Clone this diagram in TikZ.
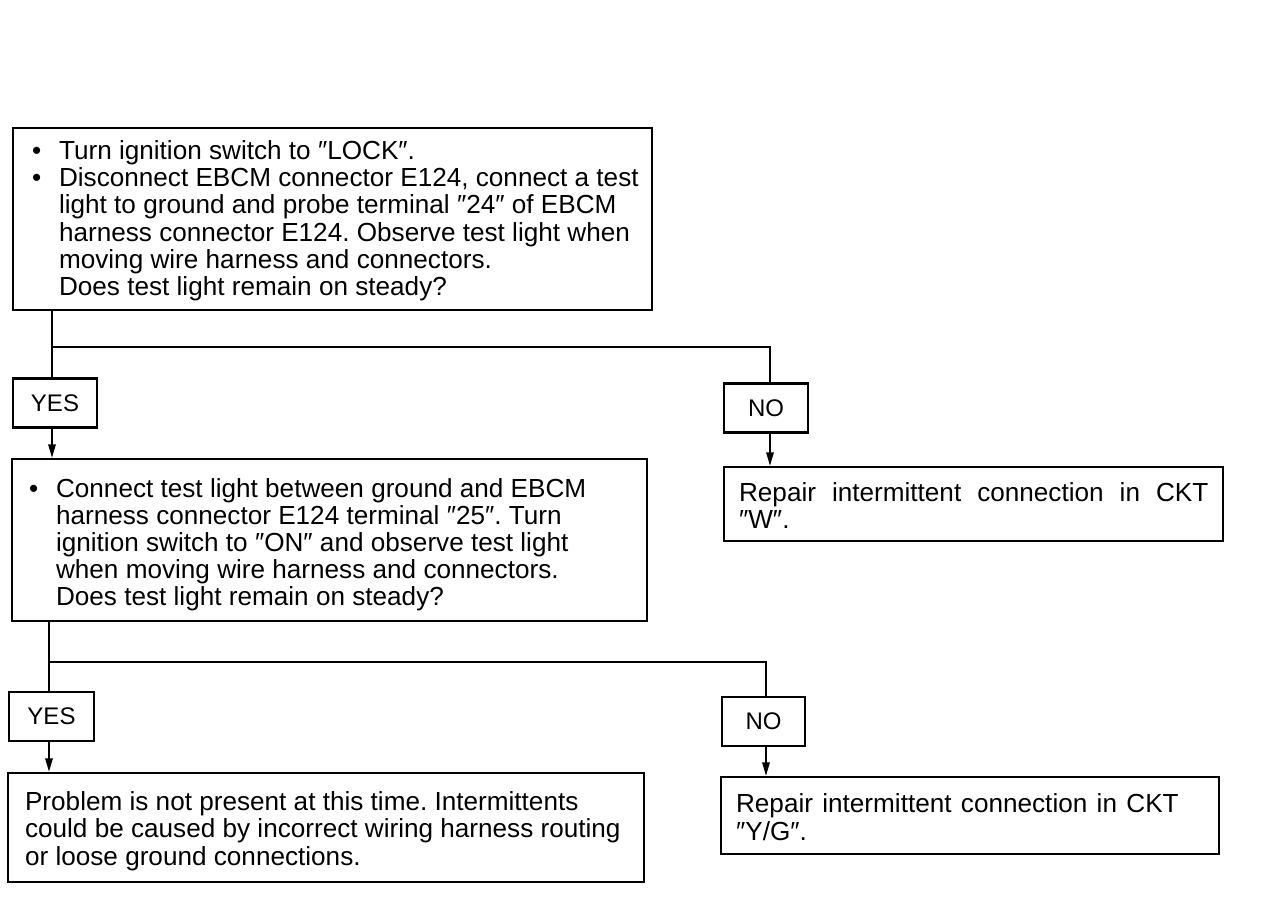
\documentclass[tikz,border=0pt]{standalone}
\usepackage{fontspec}
\setmainfont{Liberation Sans}
\usetikzlibrary{arrows.meta,fit,calc}
\frenchspacing
\begin{document}
\begin{tikzpicture}[x=0.75pt,y=-0.75pt,
  frame/.style={draw,line width=1.8pt,inner sep=0pt},
  lbl/.style={frame,font=\fontsize{18}{20}\selectfont,minimum height=36.5pt},
  body/.style={inner sep=0pt,anchor=west,font=\fontsize{19.6}{20.4}\selectfont},
  wire/.style={line width=1.3pt},
  arr/.style={wire,-{Triangle[length=10pt,width=5.5pt]}}]
\fill[white] (0,0) rectangle (1280,900);
\useasboundingbox (0,0) rectangle (1280,900);

% boxes
\node[frame,fit={(13,128)(652,310)}] (q1) {};
\node[lbl,minimum width=63pt] (y1) at (55,403) {YES};
\node[lbl,minimum width=63pt] (n1) at (766,408) {NO};
\node[frame,fit={(12,459)(647,621)}] (q2) {};
\node[frame,fit={(724,467)(1223,541)}] (r1) {};
\node[lbl,minimum width=63.75pt] (y2) at (51.5,716.5) {YES};
\node[lbl,minimum width=62.25pt] (n2) at (763.5,721.5) {NO};
\node[frame,fit={(8,773)(644,882)}] (r2) {};
\node[frame,fit={(721,777)(1219,854)}] (r3) {};

% texts
\node[body] (t1) at ([xshift=15pt,yshift=-2.25pt]q1.west) {\begin{tabular}{@{}l@{}l@{}}
\makebox[20.25pt][l]{\textbullet} & Turn ignition switch to ″LOCK″.\\
\makebox[20.25pt][l]{\textbullet} & Disconnect EBCM connector E124, connect a test\\
 & light to ground and probe terminal ″24″ of EBCM\\
 & harness connector E124. Observe test light when\\
 & moving wire harness and connectors.\\
 & Does test light remain on steady?
\end{tabular}};
\node[body] (t2) at ([xshift=13.5pt,yshift=-4.5pt]q2.west) {\begin{tabular}{@{}l@{}l@{}}
\makebox[20.25pt][l]{\textbullet} & Connect test light between ground and EBCM\\
 & harness connector E124 terminal ″25″. Turn\\
 & ignition switch to ″ON″ and observe test light\\
 & when moving wire harness and connectors.\\
 & Does test light remain on steady?
\end{tabular}};
\node[body,text width=352pt,align=justify] (t3) at ([xshift=12pt,yshift=-1.2pt]r1.west)
  {Repair intermittent connection in CKT\linebreak ″W″.};
\node[body] (t4) at ([xshift=13.5pt,yshift=-3.75pt]r2.west) {\begin{tabular}{@{}l@{}}
Problem is not present at this time. Intermittents\\
could be caused by incorrect wiring harness routing\\
or loose ground connections.
\end{tabular}};
\node[body,text width=332pt,align=justify] (t5) at ([xshift=12pt,yshift=-1.2pt]r3.west)
  {Repair intermittent connection in CKT\linebreak ″Y/G″.};

% connectors
\coordinate (j1) at (52,347);
\coordinate (j2) at (770,347);
\coordinate (j3) at (49,662);
\coordinate (j4) at (766,662);
\draw[wire] (q1.south -| j1) -- (y1.north -| j1);
\draw[wire] (j1) -- (j2) -- (n1.north -| j2);
\draw[arr] (y1.south -| j1) -- (q2.north -| j1);
\draw[arr] (n1.south -| j2) -- (r1.north -| j2);
\draw[wire] (q2.south -| j3) -- (y2.north -| j3);
\draw[wire] (j3) -- (j4) -- (n2.north -| j4);
\draw[arr] (y2.south -| j3) -- (r2.north -| j3);
\draw[arr] (n2.south -| j4) -- (r3.north -| j4);
\end{tikzpicture}
\end{document}
